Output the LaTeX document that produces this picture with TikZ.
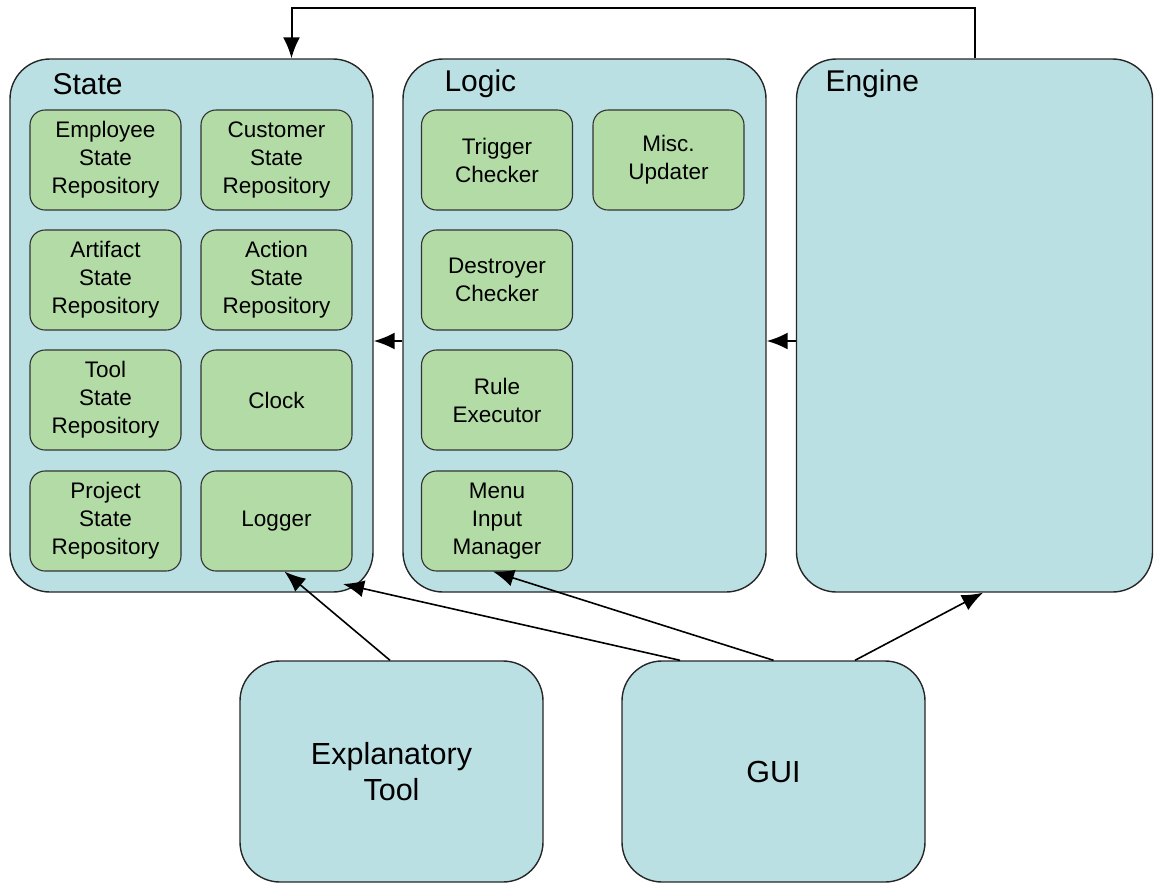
\documentclass[tikz,border=0pt]{standalone}
\usepackage{fontspec}
\setmainfont{Liberation Sans}
\usetikzlibrary{arrows.meta}
\definecolor{bluebox}{HTML}{BBE0E3}
\definecolor{greenbox}{HTML}{B3DBA6}
\begin{document}
\begin{tikzpicture}[x=1pt,y=-1pt,
  big/.style={draw=black!85,line width=1.4pt,fill=bluebox,rounded corners=40pt,inner sep=0pt,align=center},
  small/.style={draw=black!80,line width=1.1pt,fill=greenbox,rounded corners=15pt,minimum width=151pt,minimum height=100pt,inner sep=0pt,align=center,font=\fontsize{22.5}{28}\selectfont},
  title/.style={anchor=west,font=\fontsize{30}{34}\selectfont},
  arr/.style={line width=2pt,-{Latex[length=21pt,width=17pt]}},
  thinarr/.style={line width=1.6pt,-{Latex[length=21pt,width=17pt]}}]
\useasboundingbox (0,0) rectangle (1154,884);
% big boxes
\node[big,minimum width=363pt,minimum height=533pt] (state) at (191.5,325.5) {};
\node[big,minimum width=363pt,minimum height=533pt] (logic) at (584.5,325.5) {};
\node[big,minimum width=356pt,minimum height=533pt] (engine) at (974.5,325.5) {};
\node[big,minimum width=303pt,minimum height=221pt,font=\fontsize{30.5}{36}\selectfont] (expl) at (391.5,771.5) {Explanatory\\Tool};
\node[big,minimum width=303pt,minimum height=221pt,font=\fontsize{30.5}{36}\selectfont] (gui) at (773.5,771.5) {GUI};
% titles
\node[title] (statet) at (49,84) {State};
\node[title] (logict) at (441,84) {Logic};
\node[title] (enginet) at (822,84) {Engine};
% state inner
\node[small] (emp) at (105.5,160) {Employee\\State\\Repository};
\node[small] (cust) at (276.5,160) {Customer\\State\\Repository};
\node[small] (art) at (105.5,280) {Artifact\\State\\Repository};
\node[small] (act) at (276.5,280) {Action\\State\\Repository};
\node[small] (tool) at (105.5,400) {Tool\\State\\Repository};
\node[small] (clock) at (276.5,400) {Clock};
\node[small] (proj) at (105.5,521) {Project\\State\\Repository};
\node[small] (logger) at (276.5,521) {Logger};
% logic inner
\node[small] (trig) at (497,160) {Trigger\\Checker};
\node[small] (misc) at (668.5,160) {Misc.\\Updater};
\node[small] (destr) at (497,280) {Destroyer\\Checker};
\node[small] (rule) at (497,400) {Rule\\Executor};
\node[small] (menu) at (497,521) {Menu\\Input\\Manager};
% connectors
\draw[arr] (engine.north) -- ++(0,-50) -| ([xshift=100pt]state.north);
\draw[arr] ([yshift=-15.5pt]logic.west) -- ([yshift=-15.5pt]state.east);
\draw[arr] ([yshift=-15.5pt]engine.west) -- ([yshift=-15.5pt]logic.east);
\coordinate (statecorner) at (343,584);
\draw[thinarr] ([xshift=-1.5pt]expl.north) -- ([xshift=8pt]logger.south);
\draw[thinarr] ([xshift=-93.5pt]gui.north) -- (statecorner);
\draw[thinarr] (gui.north) -- ([xshift=-4pt]menu.south);
\draw[thinarr] ([xshift=81.5pt]gui.north) -- ([xshift=8.5pt]engine.south);
\end{tikzpicture}
\end{document}
